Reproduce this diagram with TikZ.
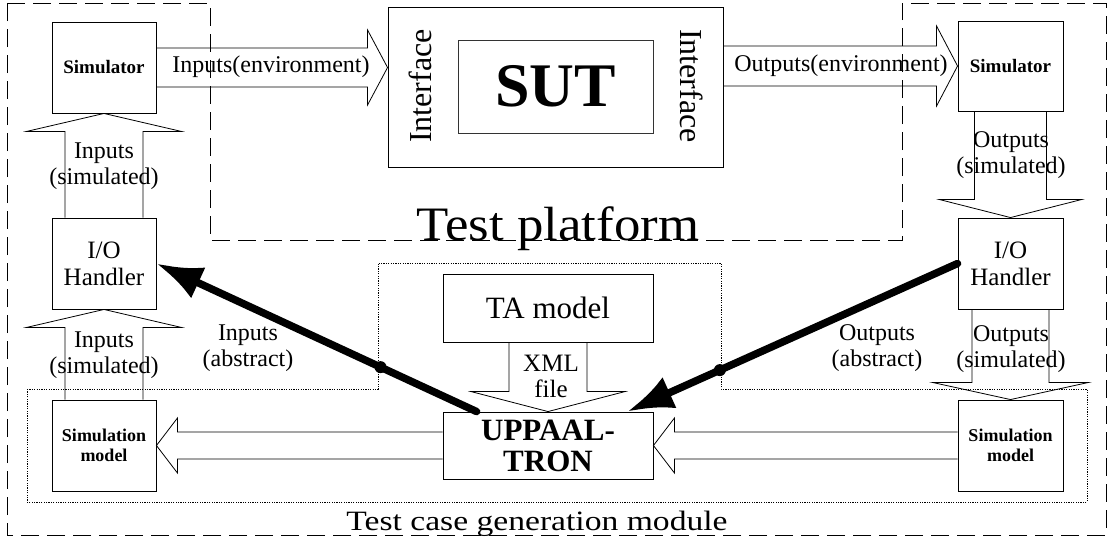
\documentclass[tikz,border=0pt]{standalone}
\usepackage{fontspec}
\setmainfont{Liberation Serif}
\usetikzlibrary{arrows.meta,calc}

\begin{document}
\begin{tikzpicture}[x=1pt, y=-1pt,
        blk/.style={shape=rectangle, draw=black, line width=0.9pt, inner sep=0pt, align=center},
        hollow/.style={draw=black, line width=0.8pt, line join=miter},
        lbl/.style={align=center, font=\fontsize{24}{26}\selectfont},
        wire/.style={line width=7.5pt, line cap=round, -{Latex[length=46pt,width=34pt]}},
        dot/.style={shape=circle, fill=black, inner sep=0pt, minimum size=12pt}]
        \useasboundingbox (0,0) rectangle (1109,542);

        % regions
        \draw[line width=1pt, dash pattern=on 18pt off 8pt] (7,3) -- (210,3) -- (210,240) -- (902,240) -- (902,3) -- (1106,3) -- (1106,535) -- (7,535) -- cycle;
        \draw[line width=0.9pt, dash pattern=on 1.2pt off 1.2pt] (27,389) -- (378,389) -- (378,263) -- (721,263) -- (721,389) -- (1087,389) -- (1087,502) -- (27,502) -- cycle;

        \node[blk, minimum width=104pt, minimum height=91pt, font=\bfseries\fontsize{19}{21}\selectfont] (S1) at (104,67.5) {Simulator};
        \node[blk, minimum width=104pt, minimum height=91pt, font=\fontsize{25}{27}\selectfont] (H1) at (104,263.5) {I/O\\Handler};
        \node[blk, minimum width=104pt, minimum height=91pt, font=\bfseries\fontsize{18}{20}\selectfont] (M1) at (104,445.5) {Simulation\\model};
        \node[blk, minimum width=335pt, minimum height=160pt] (SUT) at (555.5,87) {};
        \node[blk, draw=black!80, minimum width=195pt, minimum height=93pt, font=\bfseries\fontsize{62}{62}\selectfont] (SUTi) at (555.5,86.5) {SUT};
        \node[font=\fontsize{32}{32}\selectfont, rotate=90] (If1) at (420,86) {Interface};
        \node[font=\fontsize{32}{32}\selectfont, rotate=-90] (If2) at (692,86) {Interface};
        \node[blk, minimum width=105pt, minimum height=90pt, font=\bfseries\fontsize{19}{21}\selectfont] (S2) at (1010.5,66) {Simulator};
        \node[blk, minimum width=105pt, minimum height=91pt, font=\fontsize{25}{27}\selectfont] (H2) at (1010.5,263.5) {I/O\\Handler};
        \node[blk, minimum width=105pt, minimum height=91pt, font=\bfseries\fontsize{18}{20}\selectfont] (M2) at (1010.5,445.5) {Simulation\\model};
        \node[blk, minimum width=210pt, minimum height=68pt, font=\fontsize{31}{31}\selectfont] (TA) at (548,308) {TA model};
        \node[blk, minimum width=210pt, minimum height=67pt, font=\bfseries\fontsize{31}{31}\selectfont] (TRON) at (548,445.5) {UPPAAL-\\TRON};

        % block arrows
        \draw[hollow] ($(S1.east)+(0,-19.5)$) -- ($(S1.east -| SUT.west)+(-20,-19.5)$) -- ++(0,-18) -- (S1.east -| SUT.west) -- ++(-20,37.5) -- ++(0,-18) -- ($(S1.east)+(0,19.5)$);
        \draw[hollow] ($(S2.west -| SUT.east)+(0,-20)$) -- ($(S2.west)+(-21,-20)$) -- ++(0,-20) -- (S2.west) -- ++(-21,40) -- ++(0,-20) -- ($(S2.west -| SUT.east)+(0,20)$);
        \draw[hollow] ($(H1.north)+(-39,0)$) -- ($(S1.south)+(-39,18)$) -- ++(-38.5,0) -- (S1.south) -- ++(77.5,18) -- ++(-38.5,0) -- ($(H1.north)+(39,0)$);
        \draw[hollow] ($(M1.north)+(-39,0)$) -- ($(H1.south)+(-39,18)$) -- ++(-38.5,0) -- (H1.south) -- ++(77.5,18) -- ++(-38.5,0) -- ($(M1.north)+(39,0)$);
        \draw[hollow] ($(S2.south)+(-36,0)$) -- ($(H2.north)+(-36,-18)$) -- ++(-35,0) -- (H2.north) -- ++(71,-18) -- ++(-35,0) -- ($(S2.south)+(36,0)$);
        \draw[hollow] ($(H2.south)+(-38.5,0)$) -- ($(M2.north)+(-38.5,-17)$) -- ++(-39,0) -- (M2.north) -- ++(77.5,-17) -- ++(-39,0) -- ($(H2.south)+(38.5,0)$);
        \draw[hollow] ($(TA.south)+(-39,0)$) -- ($(TRON.north)+(-39,-20)$) -- ++(-38,0) -- (TRON.north) -- ++(77,-20) -- ++(-38,0) -- ($(TA.south)+(39,0)$);
        \draw[hollow] ($(TRON.west)+(0,-13.5)$) -- ($(M1.east)+(21,-13.5)$) -- ++(0,-14) -- (M1.east) -- ++(21,27.5) -- ++(0,-14) -- ($(TRON.west)+(0,13.5)$);
        \draw[hollow] ($(M2.west)+(0,-13.5)$) -- ($(TRON.east)+(21,-13.5)$) -- ++(0,-14) -- (TRON.east) -- ++(21,27.5) -- ++(0,-14) -- ($(M2.west)+(0,13.5)$);

        % labels
        \node[lbl] (L1) at (271,67) {Inputs(environment)};
        \node[lbl] (L2) at (841,66) {Outputs(environment)};
        \node[lbl] (L3) at (104,166) {Inputs\\(simulated)};
        \node[lbl] (L4) at (104,355) {Inputs\\(simulated)};
        \node[lbl] (L5) at (248,348) {Inputs\\(abstract)};
        \node[lbl] (L6) at (877,348) {Outputs\\(abstract)};
        \node[lbl] (L7) at (1011,155) {Outputs\\(simulated)};
        \node[lbl] (L8) at (1011,349) {Outputs\\(simulated)};
        \node[lbl, font=\fontsize{25}{26}\selectfont] (L9) at (551,376) {XML\\file};
        \node[anchor=base, font=\fontsize{48}{48}\selectfont] (TP) at (558,240) {\scalebox{1.1}[1]{Test platform}};
        \node[anchor=base, font=\fontsize{28}{28}\selectfont] (TG) at (537,530) {\scalebox{1.2}[1]{Test case generation module}};

        % abstract inputs / outputs
        \draw[wire] ($(TRON.north west)+(34,0)$) -- node[dot, pos=0.3] {} (H1.east);
        \draw[wire] (H2.west) -- node[dot, pos=0.72] {} ($(TRON.north east)+(-26,0)$);
    \end{tikzpicture}
\end{document}
